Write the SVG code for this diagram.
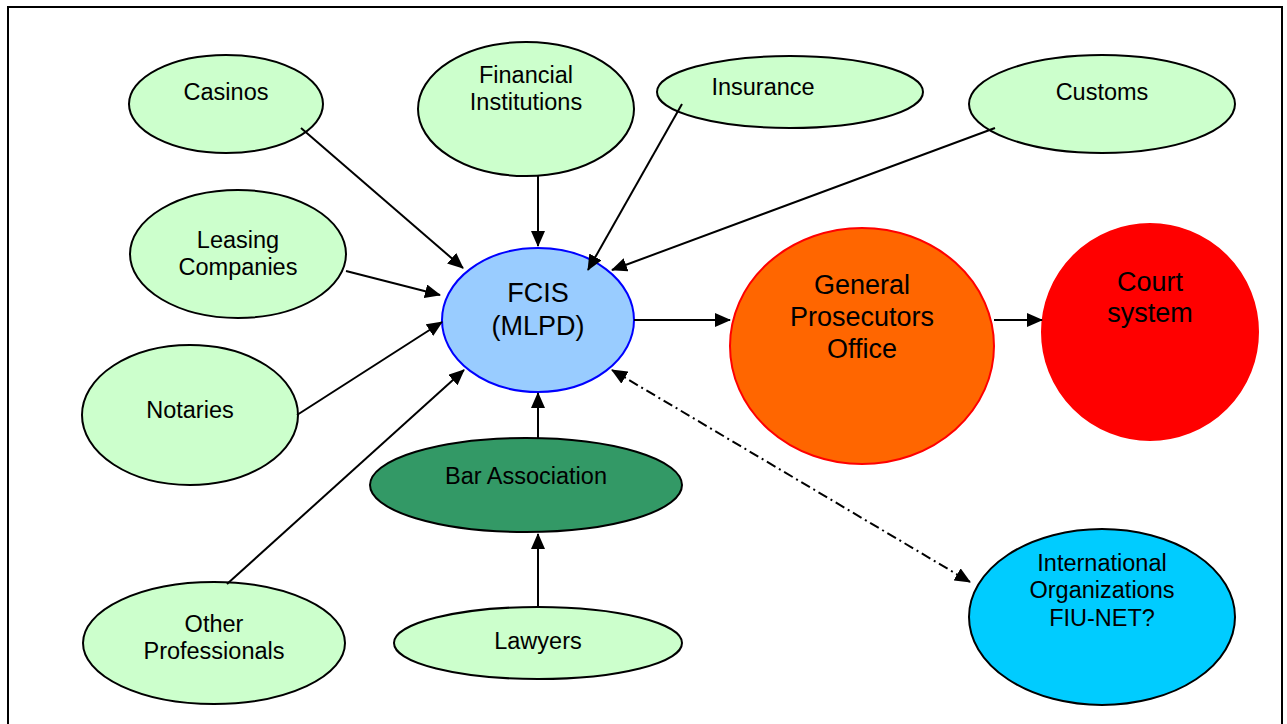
<svg xmlns="http://www.w3.org/2000/svg" width="1287" height="724" viewBox="0 0 1287 724">
<defs>
<marker id="ah" markerWidth="16" markerHeight="14" refX="15" refY="7" orient="auto" markerUnits="userSpaceOnUse">
<path d="M0,0 L16,7 L0,14 Z" fill="#000"/>
</marker>
<marker id="ahs" markerWidth="16" markerHeight="14" refX="15" refY="7" orient="auto-start-reverse" markerUnits="userSpaceOnUse">
<path d="M0,0 L16,7 L0,14 Z" fill="#000"/>
</marker>
<style>
.g{fill:#CCFFCC;stroke:#000;stroke-width:2}
.t{font-family:"Liberation Sans",Arial,sans-serif;font-size:23.5px;fill:#000;text-anchor:middle}
.tb{font-family:"Liberation Sans",Arial,sans-serif;font-size:27px;fill:#000;text-anchor:middle}
.c{stroke:#000;stroke-width:2;fill:none;marker-end:url(#ah)}
</style>
</defs>
<rect x="8" y="7" width="1274" height="740" fill="#fff" stroke="#000" stroke-width="2"/>
<g id="casinos"><ellipse class="g" cx="226" cy="104" rx="97" ry="49"/><text class="t" x="226" y="100">Casinos</text></g>
<g id="financial"><ellipse class="g" cx="526" cy="109" rx="108" ry="67"/><text class="t" x="526" y="83">Financial</text><text class="t" x="526" y="110">Institutions</text></g>
<g id="insurance"><ellipse class="g" cx="790" cy="92" rx="133" ry="36"/><text class="t" x="763" y="95">Insurance</text></g>
<g id="customs"><ellipse class="g" cx="1102" cy="104" rx="133" ry="49"/><text class="t" x="1102" y="100">Customs</text></g>
<g id="leasing"><ellipse class="g" cx="238" cy="254" rx="108" ry="64"/><text class="t" x="238" y="248">Leasing</text><text class="t" x="238" y="275">Companies</text></g>
<g id="notaries"><ellipse class="g" cx="190" cy="415" rx="108" ry="70"/><text class="t" x="190" y="418">Notaries</text></g>
<g id="other"><ellipse class="g" cx="214" cy="643" rx="131" ry="61"/><text class="t" x="214" y="632">Other</text><text class="t" x="214" y="659">Professionals</text></g>
<g id="lawyers"><ellipse class="g" cx="538" cy="643" rx="144" ry="36"/><text class="t" x="538" y="649">Lawyers</text></g>
<g id="bar"><ellipse cx="526" cy="485" rx="156" ry="47" fill="#339966" stroke="#000" stroke-width="2"/><text class="t" x="526" y="484">Bar Association</text></g>
<g id="fcis"><ellipse cx="538" cy="320" rx="96" ry="72" fill="#99CCFF" stroke="#0000FF" stroke-width="2"/><text class="tb" x="538" y="302">FCIS</text><text class="tb" x="538" y="335">(MLPD)</text></g>
<g id="gpo"><ellipse cx="862" cy="346" rx="132" ry="118" fill="#FF6600" stroke="#FF0000" stroke-width="2"/><text class="tb" x="862" y="294">General</text><text class="tb" x="862" y="326">Prosecutors</text><text class="tb" x="862" y="358">Office</text></g>
<g id="court"><ellipse cx="1150" cy="332" rx="108" ry="108" fill="#FF0000" stroke="#FF0000" stroke-width="2"/><text class="tb" x="1150" y="291">Court</text><text class="tb" x="1150" y="322">system</text></g>
<g id="intl"><ellipse cx="1102" cy="617" rx="133" ry="88" fill="#00CCFF" stroke="#000" stroke-width="2"/><text class="t" x="1102" y="571">International</text><text class="t" x="1102" y="598">Organizations</text><text class="t" x="1102" y="626">FIU-NET?</text></g>
<g id="connectors">
<line class="c" x1="301" y1="128" x2="463" y2="268"/>
<line class="c" x1="538" y1="176" x2="538" y2="246"/>
<line class="c" x1="682" y1="104" x2="588" y2="270"/>
<line class="c" x1="995" y1="128" x2="612" y2="270"/>
<line class="c" x1="346" y1="271" x2="440" y2="295"/>
<line class="c" x1="297" y1="415" x2="442" y2="322"/>
<line class="c" x1="227" y1="584" x2="464" y2="370"/>
<line class="c" x1="538" y1="438" x2="538" y2="393"/>
<line class="c" x1="538" y1="607" x2="538" y2="534"/>
<line class="c" x1="634" y1="320" x2="730" y2="320"/>
<line class="c" x1="994" y1="320" x2="1042" y2="320"/>
<line x1="612" y1="370" x2="970" y2="582" stroke="#000" stroke-width="2" fill="none" stroke-dasharray="10,4,2,4" marker-start="url(#ahs)" marker-end="url(#ah)"/>
</g>
</svg>
